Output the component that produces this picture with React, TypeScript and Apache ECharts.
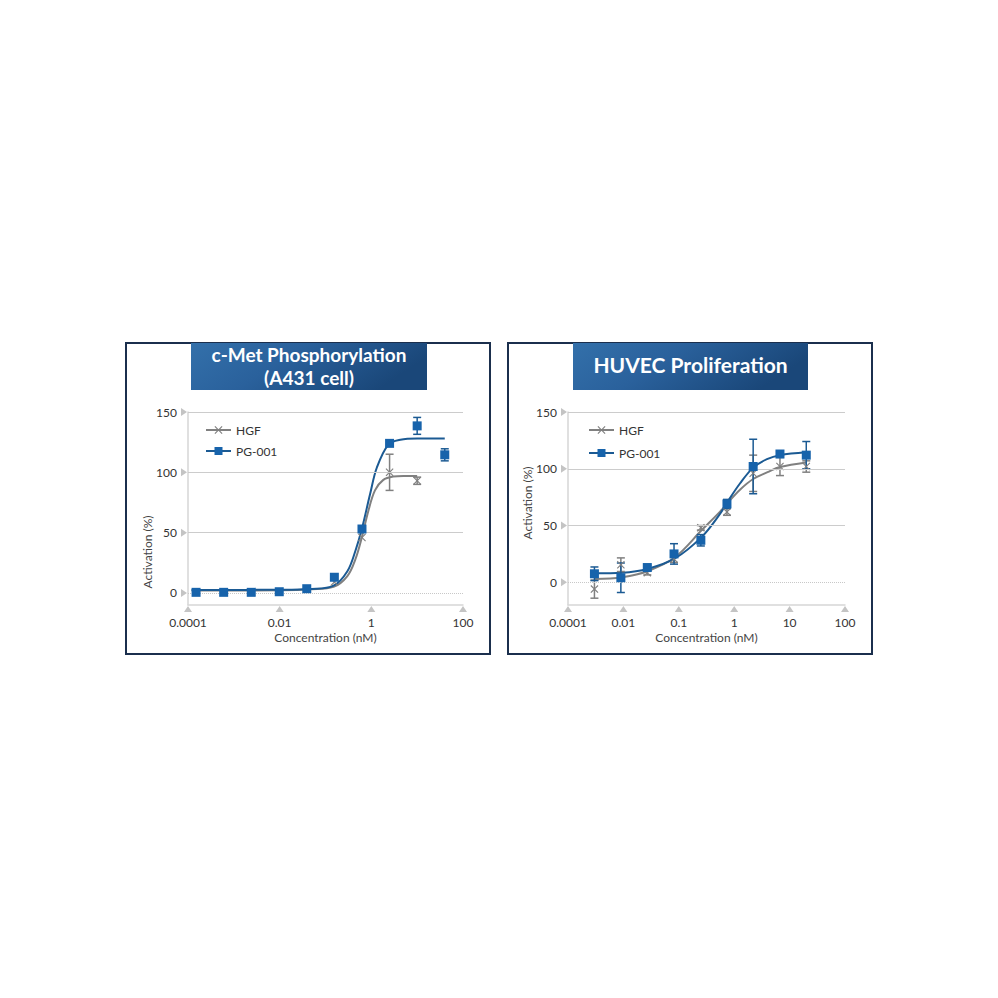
import { useEffect, useRef } from 'react'
import * as echarts from 'echarts'

// c-Met phosphorylation (A431) — 4-fold dilution series, nM
const LEFT_CONC = [0.00015, 0.0006, 0.0024, 0.0098, 0.039, 0.156, 0.625, 2.5, 10, 40]
const LEFT_HGF = [0.5, 0.5, 0.5, 1, 3, 9, 46, 100, 93, null]
const LEFT_HGF_ERR = [0, 0, 0, 0, 0, 0, 0, 15, 3, 0]
const LEFT_PG = [0.5, 0.5, 0.5, 1, 3.5, 13, 53, 124, 138.5, 114.5]
const LEFT_PG_ERR = [0, 0, 0, 0, 0, 0, 0, 0, 7, 5]
// fitted curves as [nM, %]
const LEFT_HGF_FIT = [
  [0.00012, 2], [0.01, 2.2], [0.05, 3], [0.15, 5], [0.3, 14], [0.45, 28], [0.62, 46],
  [0.86, 68], [1.2, 85], [1.8, 93.5], [3, 96.5], [5, 97], [10, 97],
]
const LEFT_PG_FIT = [
  [0.00012, 2.5], [0.01, 2.6], [0.05, 3.2], [0.15, 6], [0.3, 18], [0.45, 35], [0.62, 53],
  [0.94, 82], [1.32, 104], [2.36, 123], [4.3, 127], [10, 128], [40, 128],
]
const LEFT_X_TICKS = [-4, -2, 0, 2]
const LEFT_X_LABELS = ['0.0001', '0.01', '1', '100']

// HUVEC proliferation — 3-fold dilution series, nM
const RIGHT_CONC = [0.003, 0.009, 0.027, 0.082, 0.25, 0.74, 2.2, 6.7, 20]
const RIGHT_HGF = [-6, 15.5, 8.5, 20.5, 48, 62, 96, 102, 102]
const RIGHT_HGF_ERR = [8, 6, 2, 3, 2, 3, 16, 8, 5]
const RIGHT_PG = [7.5, 4, 13, 25, 37, 69, 102, 113, 112]
const RIGHT_PG_ERR = [6, 13, 2, 9, 5, 4, 24, 2, 12]
const RIGHT_HGF_FIT = [
  [0.003, 3], [0.0095, 4.5], [0.028, 10], [0.085, 22], [0.26, 46], [0.55, 62], [0.76, 70],
  [1.3, 82], [2.2, 91], [4, 97], [6.7, 101.5], [20, 105.5],
]
const RIGHT_PG_FIT = [
  [0.003, 8], [0.0095, 8.5], [0.028, 12], [0.085, 21], [0.26, 40], [0.55, 60], [0.76, 71],
  [1.27, 87], [2.2, 101], [3.9, 108.5], [6.7, 112], [20, 114.5],
]
// the source labels its first decade "0.0001" although it sits at 0.001
const RIGHT_X_TICKS = [-3, -2, -1, 0, 1, 2]
const RIGHT_X_LABELS = ['0.0001', '0.01', '0.1', '1', '10', '100']

const Y_TICKS = [0, 50, 100, 150]

const BLUE = '#1763ab'
const BLUE_LINE = '#1b5a93'
const GRAY = '#808080'
const AXIS = '#d6d6d6'
const GRID = '#cccccc'
const TEXT = '#333333'
const FONT = 'Lato, "Open Sans", sans-serif'
const NAVY = '#1b2f4d'

const X_MARK = 'path://M1,0L5,4L9,0L10,1L6,5L10,9L9,10L5,6L1,10L0,9L4,5L0,1Z'

type Panel = {
  conc: number[]
  hgf: (number | null)[]
  hgfErr: number[]
  pg: (number | null)[]
  pgErr: number[]
  hgfFit: number[][]
  pgFit: number[][]
  xTicks: number[]
  xLabels: string[]
  yMin: number
}

function errorBars(i: number, p: Panel, vals: (number | null)[], errs: number[], color: string) {
  const data = p.conc
    .map((c, k) => (vals[k] == null || !errs[k] ? null : [Math.log10(c), vals[k]! - errs[k], vals[k]! + errs[k]]))
    .filter(Boolean)
  return {
    type: 'custom',
    xAxisIndex: i,
    yAxisIndex: i,
    silent: true,
    z: 3,
    encode: { x: 0, y: [1, 2] },
    data,
    renderItem: (_: any, api: any) => {
      const lo = api.coord([api.value(0), api.value(1)])
      const hi = api.coord([api.value(0), api.value(2)])
      const w = 4
      const style = { stroke: color, lineWidth: 1.5 }
      return {
        type: 'group',
        children: [
          { type: 'line', shape: { x1: lo[0], y1: lo[1], x2: hi[0], y2: hi[1] }, style },
          { type: 'line', shape: { x1: lo[0] - w, y1: lo[1], x2: lo[0] + w, y2: lo[1] }, style },
          { type: 'line', shape: { x1: hi[0] - w, y1: hi[1], x2: hi[0] + w, y2: hi[1] }, style },
        ],
      }
    },
  }
}

function points(vals: (number | null)[], conc: number[]) {
  return conc.map((c, k) => (vals[k] == null ? null : [Math.log10(c), vals[k]])).filter(Boolean)
}

function panelSeries(i: number, p: Panel) {
  const xMin = p.xTicks[0]
  return [
    {
      name: 'HGF',
      type: 'line',
      xAxisIndex: i,
      yAxisIndex: i,
      smooth: 0.35,
      symbol: X_MARK,
      symbolSize: 8,
      showSymbol: false,
      silent: true,
      z: 2,
      itemStyle: { color: GRAY },
      lineStyle: { color: GRAY, width: 2 },
      data: p.hgfFit.map(([c, v]) => [Math.log10(c), v]),
    },
    {
      name: 'PG-001',
      type: 'line',
      xAxisIndex: i,
      yAxisIndex: i,
      smooth: 0.35,
      symbol: 'rect',
      symbolSize: 8,
      showSymbol: false,
      silent: true,
      z: 2,
      itemStyle: { color: BLUE },
      lineStyle: { color: BLUE_LINE, width: 2 },
      data: p.pgFit.map(([c, v]) => [Math.log10(c), v]),
    },
    errorBars(i, p, p.hgf, p.hgfErr, GRAY),
    errorBars(i, p, p.pg, p.pgErr, BLUE_LINE),
    {
      name: 'HGF',
      type: 'scatter',
      xAxisIndex: i,
      yAxisIndex: i,
      symbol: X_MARK,
      symbolSize: 8,
      z: 4,
      itemStyle: { color: GRAY, opacity: 1 },
      data: points(p.hgf, p.conc),
    },
    {
      name: 'PG-001',
      type: 'scatter',
      xAxisIndex: i,
      yAxisIndex: i,
      symbol: 'rect',
      symbolSize: 9,
      z: 5,
      itemStyle: { color: BLUE, opacity: 1 },
      data: points(p.pg, p.conc),
    },
    // tick arrows on the y axis, plus the horizontal grid
    {
      type: 'scatter',
      xAxisIndex: i,
      yAxisIndex: i,
      silent: true,
      clip: false,
      symbol: 'triangle',
      symbolSize: [8, 6],
      symbolRotate: -90,
      symbolOffset: [-4, 0],
      itemStyle: { color: '#c4c4c4', opacity: 1 },
      z: 1,
      data: Y_TICKS.map((v) => [xMin, v]),
      markLine: {
        silent: true,
        symbol: ['none', 'none'],
        label: { show: false },
        lineStyle: { color: GRID, width: 1, type: 'solid' },
        data: Y_TICKS.map((v) =>
          v === 0 ? { yAxis: v, lineStyle: { type: 'dotted', color: '#c8c8c8' } } : { yAxis: v },
        ),
      },
    },
    // tick arrows under the x axis
    {
      type: 'scatter',
      xAxisIndex: i,
      yAxisIndex: i,
      silent: true,
      clip: false,
      symbol: 'triangle',
      symbolSize: [8, 6],
      symbolOffset: [0, 4],
      itemStyle: { color: '#c4c4c4', opacity: 1 },
      z: 1,
      data: p.xTicks.map((t) => [t, p.yMin]),
    },
  ]
}

const PANELS: Panel[] = [
  {
    conc: LEFT_CONC, hgf: LEFT_HGF, hgfErr: LEFT_HGF_ERR, pg: LEFT_PG, pgErr: LEFT_PG_ERR,
    hgfFit: LEFT_HGF_FIT, pgFit: LEFT_PG_FIT, xTicks: LEFT_X_TICKS, xLabels: LEFT_X_LABELS, yMin: -10,
  },
  {
    conc: RIGHT_CONC, hgf: RIGHT_HGF, hgfErr: RIGHT_HGF_ERR, pg: RIGHT_PG, pgErr: RIGHT_PG_ERR,
    hgfFit: RIGHT_HGF_FIT, pgFit: RIGHT_PG_FIT, xTicks: RIGHT_X_TICKS, xLabels: RIGHT_X_LABELS, yMin: -20,
  },
]

const GRIDS = [
  { left: 188, top: 412, width: 275, height: 193 },
  { left: 568, top: 412, width: 277, height: 193 },
]

function titleBox(x: number, w: number, title: string, y: number, size: number) {
  return [
    {
      type: 'rect',
      shape: { x, y: 343, width: w, height: 47 },
      style: {
        fill: {
          type: 'linear', x: 0, y: 0, x2: 1, y2: 0.3,
          colorStops: [
            { offset: 0, color: '#3370aa' },
            { offset: 0.45, color: '#2a619c' },
            { offset: 1, color: '#1a4779' },
          ],
        },
      },
      z: 10,
    },
    {
      type: 'text',
      x: x + w / 2,
      y,
      z: 11,
      style: {
        text: title,
        fill: '#ffffff',
        font: `bold ${size}px ${FONT}`,
        lineHeight: 23,
        align: 'center',
        verticalAlign: 'middle',
        shadowColor: 'rgba(0,0,0,0.35)',
        shadowBlur: 2,
      },
    },
  ]
}

function buildOption(): echarts.EChartsOption {
  return {
    animation: false,
    textStyle: { fontFamily: FONT },
    grid: GRIDS,
    legend: [
      { left: 200, top: 419, itemGap: 9 },
      { left: 583, top: 419, itemGap: 11 },
    ].map((l) => ({
      ...l,
      orient: 'vertical',
      itemWidth: 25,
      itemHeight: 10,
      data: ['HGF', 'PG-001'],
      selectedMode: false,
      textStyle: { color: TEXT, fontSize: 12, fontFamily: FONT },
    })),
    xAxis: PANELS.map((p, i) => ({
      type: 'value',
      gridIndex: i,
      min: p.xTicks[0],
      max: p.xTicks[p.xTicks.length - 1],
      interval: p.xTicks[1] - p.xTicks[0],
      name: 'Concentration (nM)',
      nameLocation: 'middle',
      nameGap: 26,
      nameTextStyle: { color: '#444', fontSize: 12, fontFamily: FONT },
      axisLine: { onZero: false, lineStyle: { color: AXIS, width: 1.5 } },
      axisTick: { show: false },
      splitLine: { show: false },
      axisLabel: {
        color: TEXT,
        fontSize: 12,
        margin: 11,
        formatter: (v: number) => {
          const k = p.xTicks.findIndex((t) => Math.abs(t - v) < 1e-6)
          return k < 0 ? '' : p.xLabels[k]
        },
      },
    })),
    yAxis: PANELS.map((p, i) => ({
      type: 'value',
      gridIndex: i,
      min: p.yMin,
      max: 150,
      interval: 10,
      axisLine: { show: true, onZero: false, lineStyle: { color: AXIS, width: 1.5 } },
      axisTick: { show: false },
      splitLine: { show: false },
      axisLabel: {
        color: TEXT,
        fontSize: 12,
        margin: 11,
        formatter: (v: number) => (Y_TICKS.includes(Math.round(v)) && Math.abs(v - Math.round(v)) < 1e-6 ? String(Math.round(v)) : ''),
      },
    })),
    series: PANELS.flatMap((p, i) => panelSeries(i, p)) as any,
    graphic: [
      { type: 'rect', shape: { x: 126, y: 343, width: 364, height: 311 }, style: { fill: 'none', stroke: NAVY, lineWidth: 2 }, z: 9 },
      { type: 'rect', shape: { x: 508, y: 343, width: 364, height: 311 }, style: { fill: 'none', stroke: NAVY, lineWidth: 2 }, z: 9 },
      ...titleBox(191, 236, 'c-Met Phosphorylation\n(A431 cell)', 366, 19),
      ...titleBox(573, 235, 'HUVEC Proliferation', 364, 21),
      {
        type: 'text', x: 147, y: 552, rotation: Math.PI / 2,
        style: { text: 'Activation (%)', fill: '#444', font: `12px ${FONT}`, align: 'center', verticalAlign: 'middle' },
      },
      {
        type: 'text', x: 527, y: 503, rotation: Math.PI / 2,
        style: { text: 'Activation (%)', fill: '#444', font: `12px ${FONT}`, align: 'center', verticalAlign: 'middle' },
      },
    ] as any,
  }
}

export default function App() {
  const ref = useRef<HTMLDivElement>(null)

  useEffect(() => {
    const el = ref.current
    if (!el) return
    const chart = echarts.init(el, undefined, { renderer: 'svg' })
    chart.setOption(buildOption())
    return () => chart.dispose()
  }, [])

  return (
    <div
      ref={ref}
      style={{ position: 'absolute', left: 0, top: 0, width: 998, height: 998, background: '#ffffff' }}
    />
  )
}
